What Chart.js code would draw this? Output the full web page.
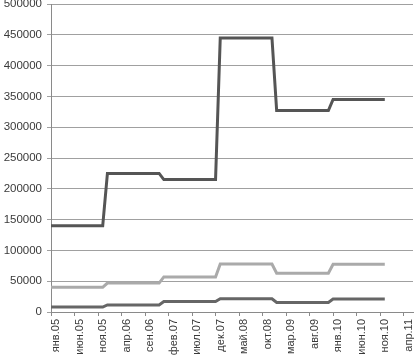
<!DOCTYPE html>
<html>
<head>
<meta charset="utf-8">
<script src="https://cdn.jsdelivr.net/npm/chart.js@4"></script>
<style>
  html, body { margin: 0; padding: 0; background: #fff; }
  .wrap { width: 415px; height: 360px; }
</style>
</head>
<body>
<div class="wrap"><canvas id="c"></canvas></div>
<script>
// month names and years for the category axis
const monthNames = ['янв', 'фев', 'мар', 'апр', 'май', 'июн', 'июл', 'авг', 'сен', 'окт', 'ноя', 'дек'];
const years = ['05', '06', '07', '08', '09', '10', '11'];
const lastMonthCount = 78; // axis runs янв.05 .. июн.11

// monthly values, one row per year (2005 .. 2010)
const seriesTop = [
  140000, 140000, 140000, 140000, 140000, 140000, 140000, 140000, 140000, 140000, 140000, 140000,
  225000, 225000, 225000, 225000, 225000, 225000, 225000, 225000, 225000, 225000, 225000, 225000,
  215000, 215000, 215000, 215000, 215000, 215000, 215000, 215000, 215000, 215000, 215000, 215000,
  445000, 445000, 445000, 445000, 445000, 445000, 445000, 445000, 445000, 445000, 445000, 445000,
  327000, 327000, 327000, 327000, 327000, 327000, 327000, 327000, 327000, 327000, 327000, 327000,
  345000, 345000, 345000, 345000, 345000, 345000, 345000, 345000, 345000, 345000, 345000, 345000
];
const seriesMid = [
  40000, 40000, 40000, 40000, 40000, 40000, 40000, 40000, 40000, 40000, 40000, 40000,
  47000, 47000, 47000, 47000, 47000, 47000, 47000, 47000, 47000, 47000, 47000, 47000,
  57000, 57000, 57000, 57000, 57000, 57000, 57000, 57000, 57000, 57000, 57000, 57000,
  78000, 78000, 78000, 78000, 78000, 78000, 78000, 78000, 78000, 78000, 78000, 78000,
  63000, 63000, 63000, 63000, 63000, 63000, 63000, 63000, 63000, 63000, 63000, 63000,
  77500, 77500, 77500, 77500, 77500, 77500, 77500, 77500, 77500, 77500, 77500, 77500
];
const seriesLow = [
  8000, 8000, 8000, 8000, 8000, 8000, 8000, 8000, 8000, 8000, 8000, 8000,
  11500, 11500, 11500, 11500, 11500, 11500, 11500, 11500, 11500, 11500, 11500, 11500,
  17000, 17000, 17000, 17000, 17000, 17000, 17000, 17000, 17000, 17000, 17000, 17000,
  21500, 21500, 21500, 21500, 21500, 21500, 21500, 21500, 21500, 21500, 21500, 21500,
  15500, 15500, 15500, 15500, 15500, 15500, 15500, 15500, 15500, 15500, 15500, 15500,
  21000, 21000, 21000, 21000, 21000, 21000, 21000, 21000, 21000, 21000, 21000, 21000
];

const labels = [];
years.forEach(y => monthNames.forEach(m => labels.push(m + '.' + y)));
labels.length = lastMonthCount;

const font = { family: "'Liberation Sans', Arial, sans-serif", size: 11 };
const gridCol = '#a0a0a0', axisCol = '#8a8a8a', textCol = '#3a3a3a';

new Chart(document.getElementById('c'), {
  type: 'line',
  data: {
    labels,
    datasets: [
      { data: seriesTop, borderColor: '#555555', borderWidth: 3, pointRadius: 0, tension: 0 },
      { data: seriesMid, borderColor: '#aaaaaa', borderWidth: 3, pointRadius: 0, tension: 0 },
      { data: seriesLow, borderColor: '#666666', borderWidth: 3, pointRadius: 0, tension: 0 },
    ]
  },
  options: {
    responsive: true, maintainAspectRatio: false, animation: false,
    layout: { padding: { top: 4, right: 2, left: 0, bottom: 0 } },
    plugins: { legend: { display: false }, tooltip: { enabled: false } },
    scales: {
      x: {
        type: 'category',
        offset: false,
        afterFit: s => { s.height = 48; s.paddingLeft = 0; s.paddingRight = 0; },
        grid: {
          drawOnChartArea: false, drawTicks: true, tickLength: 4,
          color: ctx => (ctx.index % 5 === 0 ? axisCol : 'rgba(0,0,0,0)')
        },
        border: { color: axisCol, width: 1 },
        ticks: {
          autoSkip: false, maxRotation: 90, minRotation: 90, padding: 3, labelOffset: 5,
          color: textCol, font,
          callback: function (v, i) { return i % 5 === 0 ? this.getLabelForValue(v) : ''; }
        }
      },
      y: {
        min: 0, max: 500000,
        afterFit: s => { s.width = 51; s.paddingTop = 0; s.paddingBottom = 0; },
        grid: { color: gridCol, lineWidth: 1, tickLength: 4 },
        border: { color: axisCol, width: 1 },
        ticks: { stepSize: 50000, color: textCol, font: { ...font, size: 11.5 }, padding: 5, callback: v => String(v) }
      }
    }
  }
});
</script>
</body>
</html>
